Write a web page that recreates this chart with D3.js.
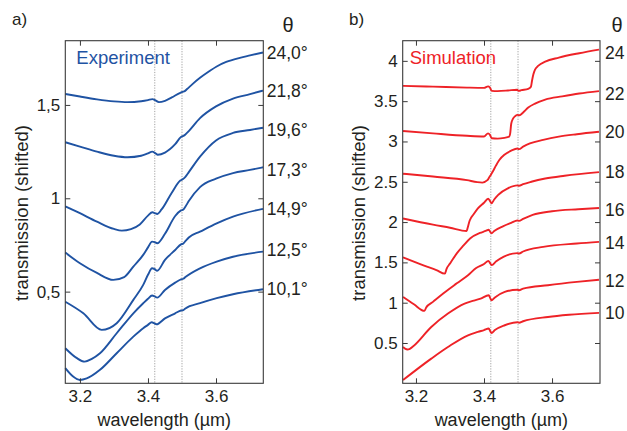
<!DOCTYPE html>
<html><head><meta charset="utf-8">
<script src="https://cdn.jsdelivr.net/npm/d3@7"></script>
<style>
body{margin:0;background:#fff;}
svg{display:block;font-family:"Liberation Sans",Arial,Helvetica,sans-serif;}
</style>
</head><body>
<svg id="chart" width="627" height="431"></svg>
<script>
// ---------------- DATA ----------------
const xTicks = [3.2, 3.4, 3.6];
const markerLines = [3.42, 3.5];

const expTicks = [0.5, 1, 1.5];
const expTickLabels = ["0,5", "1", "1,5"];
const expLabels = ["24,0°", "21,8°", "19,6°", "17,3°", "14,9°", "12,5°", "10,1°"];

const simTicks = [0.5, 1, 1.5, 2, 2.5, 3, 3.5, 4];
const simTickLabels = ["0.5", "1", "1.5", "2", "2.5", "3", "3.5", "4"];
const simLabels = ["24", "22", "20", "18", "16", "14", "12", "10"];

// Experiment (wavelength µm, shifted transmission)
const exp240 = [[3.157,1.559],[3.2,1.545],[3.25,1.53],[3.3,1.519],[3.34,1.515],[3.38,1.52],[3.40,1.526],[3.413,1.531],[3.422,1.524],[3.432,1.515],[3.45,1.522],[3.47,1.54],[3.495,1.565],[3.502,1.57],[3.508,1.574],[3.515,1.585],[3.53,1.61],[3.553,1.645],[3.58,1.68],[3.602,1.706],[3.63,1.73],[3.67,1.752],[3.70,1.765],[3.738,1.781]];
const exp218 = [[3.157,1.30],[3.2,1.277],[3.25,1.25],[3.3,1.228],[3.34,1.220],[3.38,1.228],[3.40,1.241],[3.413,1.25],[3.421,1.242],[3.429,1.233],[3.45,1.245],[3.48,1.29],[3.497,1.328],[3.504,1.334],[3.51,1.342],[3.52,1.36],[3.553,1.429],[3.60,1.492],[3.65,1.534],[3.70,1.558],[3.738,1.577]];
const exp196 = [[3.157,0.957],[3.2,0.92],[3.25,0.875],[3.3,0.836],[3.323,0.827],[3.35,0.835],[3.376,0.86],[3.40,0.907],[3.413,0.925],[3.42,0.921],[3.427,0.916],[3.44,0.94],[3.47,1.03],[3.495,1.095],[3.503,1.103],[3.51,1.115],[3.52,1.14],[3.553,1.223],[3.60,1.31],[3.65,1.35],[3.70,1.366],[3.738,1.378]];
const exp173 = [[3.157,0.709],[3.2,0.652],[3.25,0.60],[3.298,0.563],[3.33,0.578],[3.357,0.634],[3.386,0.697],[3.40,0.737],[3.412,0.768],[3.42,0.765],[3.427,0.759],[3.45,0.81],[3.48,0.905],[3.497,0.935],[3.504,0.94],[3.51,0.955],[3.52,0.985],[3.553,1.06],[3.60,1.105],[3.65,1.135],[3.70,1.152],[3.738,1.166]];
const exp149 = [[3.157,0.446],[3.21,0.384],[3.264,0.295],[3.308,0.331],[3.357,0.456],[3.386,0.536],[3.40,0.59],[3.412,0.625],[3.42,0.62],[3.427,0.612],[3.45,0.67],[3.48,0.723],[3.497,0.753],[3.504,0.758],[3.51,0.77],[3.52,0.79],[3.553,0.821],[3.602,0.866],[3.65,0.902],[3.738,0.943]];
const exp125 = [[3.157,0.197],[3.19,0.145],[3.214,0.125],[3.235,0.14],[3.259,0.170],[3.308,0.277],[3.357,0.384],[3.386,0.438],[3.40,0.462],[3.412,0.479],[3.42,0.474],[3.427,0.468],[3.45,0.509],[3.48,0.548],[3.497,0.566],[3.504,0.569],[3.51,0.578],[3.553,0.625],[3.602,0.661],[3.65,0.687],[3.738,0.714]];
const exp101 = [[3.157,0.09],[3.18,0.045],[3.2,0.027],[3.22,0.035],[3.259,0.081],[3.308,0.170],[3.357,0.259],[3.386,0.304],[3.40,0.322],[3.411,0.336],[3.418,0.331],[3.425,0.325],[3.45,0.357],[3.48,0.384],[3.497,0.399],[3.504,0.401],[3.51,0.41],[3.553,0.438],[3.602,0.465],[3.65,0.486],[3.738,0.513]];

// Simulation (wavelength µm, shifted transmission)
const sim24 = [[3.162,3.69],[3.25,3.68],[3.35,3.668],[3.40,3.665],[3.412,3.683],[3.417,3.67],[3.423,3.628],[3.44,3.625],[3.47,3.632],[3.497,3.642],[3.502,3.628],[3.51,3.636],[3.53,3.652],[3.538,3.68],[3.541,3.75],[3.545,3.83],[3.55,3.89],[3.56,3.94],[3.58,3.99],[3.62,4.04],[3.68,4.095],[3.738,4.14]];
const sim22 = [[3.162,3.13],[3.25,3.10],[3.35,3.07],[3.40,3.062],[3.412,3.10],[3.417,3.085],[3.423,3.04],[3.44,3.035],[3.46,3.045],[3.474,3.06],[3.477,3.10],[3.48,3.22],[3.485,3.28],[3.492,3.315],[3.499,3.33],[3.504,3.325],[3.515,3.36],[3.53,3.42],[3.55,3.47],[3.58,3.52],[3.63,3.56],[3.68,3.595],[3.738,3.625]];
const sim20 = [[3.162,2.60],[3.25,2.565],[3.35,2.52],[3.38,2.495],[3.395,2.49],[3.41,2.52],[3.416,2.56],[3.42,2.585],[3.425,2.62],[3.435,2.70],[3.445,2.77],[3.46,2.835],[3.48,2.885],[3.498,2.912],[3.503,2.905],[3.515,2.935],[3.535,2.975],[3.574,3.02],[3.62,3.06],[3.673,3.09],[3.738,3.12]];
const sim18 = [[3.162,2.045],[3.25,1.968],[3.30,1.93],[3.349,1.89],[3.352,1.93],[3.358,2.02],[3.37,2.10],[3.382,2.17],[3.40,2.24],[3.412,2.29],[3.418,2.26],[3.422,2.232],[3.43,2.28],[3.441,2.335],[3.47,2.418],[3.498,2.455],[3.503,2.45],[3.515,2.47],[3.539,2.50],[3.58,2.54],[3.637,2.575],[3.738,2.62]];
const sim16 = [[3.162,1.561],[3.224,1.459],[3.26,1.405],[3.285,1.36],[3.29,1.42],[3.30,1.486],[3.32,1.611],[3.34,1.71],[3.359,1.797],[3.388,1.865],[3.405,1.89],[3.414,1.905],[3.418,1.88],[3.422,1.86],[3.43,1.89],[3.457,1.95],[3.48,1.99],[3.498,2.02],[3.503,2.015],[3.515,2.04],[3.543,2.09],[3.6,2.135],[3.677,2.16],[3.738,2.175]];
const sim14 = [[3.162,1.071],[3.194,0.98],[3.225,0.898],[3.23,0.94],[3.25,1.01],[3.28,1.114],[3.32,1.24],[3.353,1.341],[3.377,1.43],[3.40,1.48],[3.413,1.519],[3.418,1.49],[3.423,1.466],[3.435,1.51],[3.457,1.569],[3.498,1.615],[3.503,1.61],[3.515,1.635],[3.574,1.693],[3.673,1.735],[3.738,1.755]];
const sim12 = [[3.162,0.45],[3.168,0.43],[3.175,0.42],[3.182,0.428],[3.192,0.46],[3.245,0.699],[3.294,0.865],[3.343,0.989],[3.37,1.025],[3.39,1.05],[3.414,1.093],[3.418,1.06],[3.422,1.03],[3.432,1.065],[3.461,1.134],[3.498,1.16],[3.503,1.155],[3.515,1.175],[3.588,1.217],[3.673,1.258],[3.738,1.285]];
const sim10 = [[3.162,0.04],[3.245,0.306],[3.294,0.45],[3.353,0.596],[3.382,0.637],[3.40,0.66],[3.414,0.679],[3.418,0.65],[3.422,0.624],[3.432,0.66],[3.461,0.72],[3.498,0.758],[3.503,0.752],[3.515,0.77],[3.588,0.823],[3.65,0.85],[3.738,0.873]];

const expSeries = [exp240, exp218, exp196, exp173, exp149, exp125, exp101];
const simSeries = [sim24, sim22, sim20, sim18, sim16, sim14, sim12, sim10];

// ---------------- DRAW ----------------
const svg = d3.select("#chart");
const FRAME = "#3a3a3a", TXT = "#231f20";

function panel(cfg) {
  const x = d3.scaleLinear().domain(cfg.xDomain).range([cfg.left, cfg.right]);
  const y = d3.scaleLinear().domain(cfg.yDomain).range([cfg.bottom, cfg.top]);
  const g = svg.append("g");

  // dotted marker lines
  g.selectAll("line.mark").data(markerLines).join("line")
    .attr("x1", d => x(d)).attr("x2", d => x(d))
    .attr("y1", cfg.top).attr("y2", cfg.bottom)
    .attr("stroke", "#8a8a8a").attr("stroke-width", 0.8)
    .attr("stroke-dasharray", "1.2,1.4");

  // curves
  const line = d3.line().x(d => x(d[0])).y(d => y(d[1])).curve(d3.curveMonotoneX);
  g.selectAll("path.curve").data(cfg.series).join("path")
    .attr("d", line).attr("fill", "none")
    .attr("stroke", cfg.color).attr("stroke-width", 1.9)
    .attr("stroke-linejoin", "round");

  // axes (ticks inward)
  const bottom = g.append("g").attr("transform", `translate(0,${cfg.bottom})`)
    .call(d3.axisBottom(x).tickValues(xTicks).tickSize(-5).tickSizeOuter(0).tickPadding(7).tickFormat(d3.format(".1f")));
  const top = g.append("g").attr("transform", `translate(0,${cfg.top})`)
    .call(d3.axisTop(x).tickValues(xTicks).tickSize(-5).tickSizeOuter(0).tickFormat(""));
  const leftAx = g.append("g").attr("transform", `translate(${cfg.left},0)`)
    .call(d3.axisLeft(y).tickValues(cfg.yTicks).tickSize(-5).tickSizeOuter(0).tickPadding(5)
      .tickFormat((d, i) => cfg.yTickLabels[i]));
  const rightAx = g.append("g").attr("transform", `translate(${cfg.right},0)`)
    .call(d3.axisRight(y).tickValues(cfg.yTicks).tickSize(-5).tickSizeOuter(0).tickFormat(""));
  [bottom, top, leftAx, rightAx].forEach(a => {
    a.select(".domain").remove();
    a.selectAll(".tick line").attr("stroke", FRAME).attr("stroke-width", 1);
    a.selectAll("text").attr("font-size", 17).attr("fill", TXT);
    a.attr("font-family", null);
  });

  // frame
  g.append("rect").attr("x", cfg.left).attr("y", cfg.top)
    .attr("width", cfg.right - cfg.left).attr("height", cfg.bottom - cfg.top)
    .attr("fill", "none").attr("stroke", FRAME).attr("stroke-width", 1.1);

  // curve labels at right
  g.selectAll("text.lab").data(cfg.series).join("text")
    .attr("x", cfg.right + cfg.labGap)
    .attr("y", (d, i) => y(d[d.length - 1][1]) + cfg.labShift[i])
    .attr("dy", "0.35em").attr("font-size", 17.5).attr("fill", TXT)
    .text((d, i) => cfg.labels[i]);

  // theta
  g.append("text").attr("x", cfg.thetaX).attr("y", 32).attr("text-anchor", "middle")
    .attr("font-size", 20).attr("fill", TXT).text("θ");

  // panel letter
  g.append("text").attr("x", cfg.letterX).attr("y", 25).attr("font-size", 17).attr("fill", TXT).text(cfg.letter);

  // legend text
  g.append("text").attr("x", cfg.left + cfg.legendDx).attr("y", 64)
    .attr("font-size", 18.5).attr("fill", cfg.color).text(cfg.title);

  // axis titles
  g.append("text").attr("x", (cfg.left + cfg.right) / 2).attr("y", 426)
    .attr("text-anchor", "middle").attr("font-size", 18).attr("fill", TXT).text("wavelength (µm)");
  g.append("text").attr("transform", `translate(${cfg.yTitleX},${(cfg.top + cfg.bottom) / 2 + 1}) rotate(-90)`)
    .attr("text-anchor", "middle").attr("font-size", 18.5).attr("fill", TXT).text("transmission (shifted)");
}

panel({
  left: 65.3, right: 263.3, top: 40.7, bottom: 383.3,
  xDomain: [3.157, 3.739], yDomain: [0.009, 1.844],
  series: expSeries, labels: expLabels, labShift: [0, 0, 2, 3, 0, -2, 0], labGap: 3.5,
  yTicks: expTicks, yTickLabels: expTickLabels,
  color: "#1f53a3", title: "Experiment", legendDx: 11,
  thetaX: 288, letter: "a)", letterX: 12, yTitleX: 28
});
panel({
  left: 402.7, right: 600, top: 40.7, bottom: 383.3,
  xDomain: [3.161, 3.741], yDomain: [0, 4.25],
  series: simSeries, labels: simLabels, labShift: [3, 3, 0, 0, 2, 1, 1, 0], labGap: 5,
  yTicks: simTicks, yTickLabels: simTickLabels,
  color: "#ee2227", title: "Simulation", legendDx: 7,
  thetaX: 617, letter: "b)", letterX: 349, yTitleX: 365
});
</script>
</body></html>
